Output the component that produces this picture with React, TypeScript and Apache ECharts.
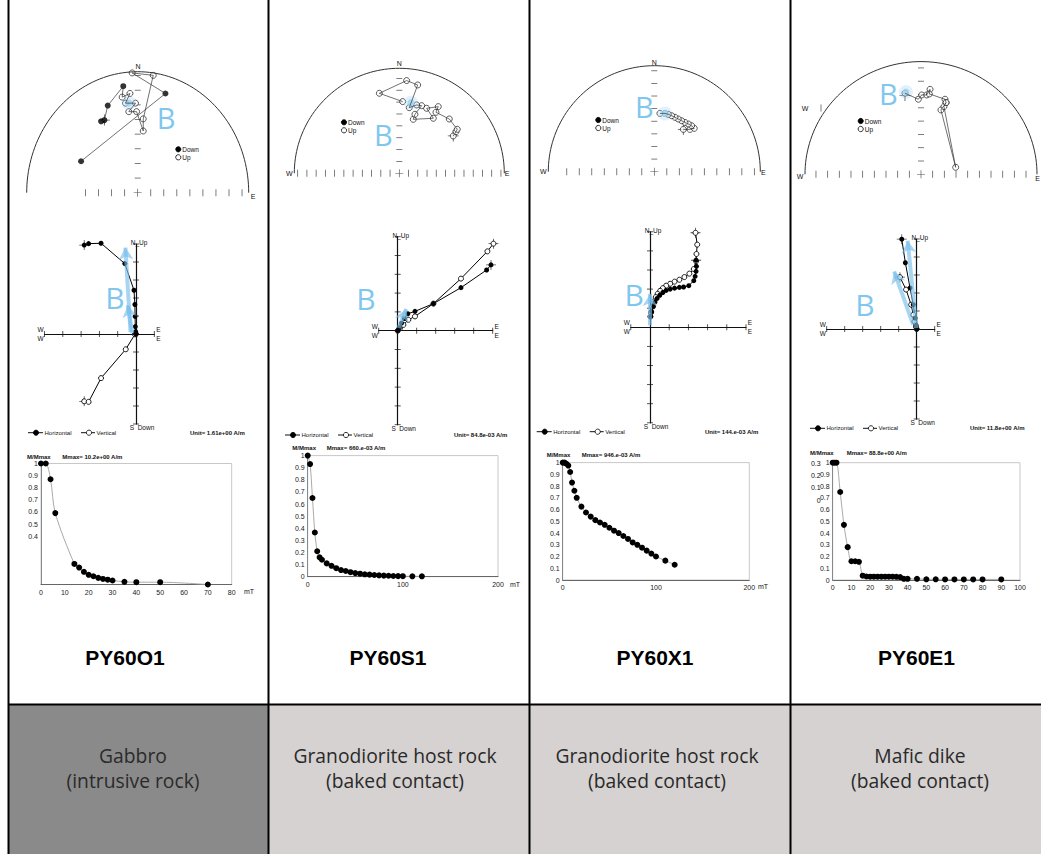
import React, { useEffect, useRef } from "react";
import * as echarts from "echarts";

const W = 1041;
const H = 854;

// ---------------- texts ----------------
const sampleIds = ["PY60O1", "PY60S1", "PY60X1", "PY60E1"];
const rockLine1 = ["Gabbro", "Granodiorite host rock", "Granodiorite host rock", "Mafic dike"];
const rockLine2 = ["(intrusive rock)", "(baked contact)", "(baked contact)", "(baked contact)"];
const unitTexts = ["Unit= 1.61e+00 A/m", "Unit= 84.8e-03 A/m", "Unit= 144.e-03 A/m", "Unit= 11.8e+00 A/m"];
const mmaxTexts = ["Mmax= 10.2e+00 A/m", "Mmax= 660.e-03 A/m", "Mmax= 946.e-03 A/m", "Mmax= 88.8e+00 A/m"];
const ghostTickLabelsE1 = ["0.3", "0.2", "0.1", "0"];

// ---------------- stereonets: [x, y, 1 = down / 0 = up], in net radii ----------------
const stereoO1 = [
  [-0.51, 0.26, 1], [0.25, 0.82, 1], [-0.05, 0.99, 0], [0.14, 0.97, 0], [0.05, 0.61, 0], [0.05, 0.51, 0],
  [-0.01, 0.67, 0], [-0.08, 0.67, 0], [-0.02, 0.74, 0], [-0.11, 0.74, 0], [-0.07, 0.82, 0], [-0.14, 0.79, 0],
  [-0.13, 0.88, 1], [-0.27, 0.72, 1], [-0.30, 0.60, 1], [-0.33, 0.59, 1],
];
const stereoS1 = [
  [0.514, 0.356, 0], [0.54, 0.397, 0], [0.552, 0.419, 0], [0.476, 0.517, 0], [0.349, 0.581, 0], [0.371, 0.635, 0],
  [0.26, 0.619, 0], [0.324, 0.524, 0], [0.133, 0.514, 0], [0.149, 0.562, 0], [0.213, 0.644, 0], [0.165, 0.651, 0],
  [0.095, 0.625, 0], [0.175, 0.841, 0], [0.07, 0.883, 0], [-0.19, 0.762, 0], [0.032, 0.683, 0],
];
const stereoX1 = [
  [0.274, 0.399, 0], [0.336, 0.399, 0], [0.377, 0.409, 0], [0.352, 0.434, 0], [0.321, 0.45, 0], [0.289, 0.465, 0],
  [0.258, 0.481, 0], [0.226, 0.497, 0], [0.195, 0.513, 0], [0.164, 0.528, 0], [0.132, 0.541, 0], [0.1, 0.55, 0],
  [0.053, 0.55, 0],
];
const stereoE1 = [
  [-0.138, 0.72, 0], [-0.023, 0.666, 0], [0.006, 0.704, 0], [0.049, 0.704, 0], [0.078, 0.754, 0], [0.072, 0.713, 0],
  [0.207, 0.666, 0], [0.216, 0.636, 0], [0.172, 0.571, 0], [0.299, 0.062, 0], [0.198, 0.601, 0], [0.216, 0.636, 0],
];
const stereoMeans = [[[-0.08, 0.74]], [[0.111, 0.673]], [[0.1, 0.55]], [[-0.13, 0.73]]];
const stereoCrosses = [[[-0.3, 0.6]], [[0.514, 0.356]], [[0.274, 0.399]], [[-0.138, 0.7]]];

// ---------------- Zijderveld (tick units) ----------------
const zijO1H = [[-2.83, 4.94], [-2.59, 5.02], [-1.91, 5.04], [-0.61, 3.91], [-0.11, 2.43], [-0.06, 1.64], [-0.05, 0.98], [-0.04, 0.41], [-0.02, 0.13], [0, 0]];
const zijO1V = [[-2.83, -3.74], [-2.59, -3.77], [-1.91, -2.45], [-0.56, -0.85], [-0.06, -0.02], [0, 0]];
const zijS1H = [[4.91, 3.5], [4.68, 3.23], [3.33, 2.29], [1.88, 1.44], [0.91, 1.03], [0.53, 0.9], [0.35, 0.65], [0.2, 0.4], [0.08, 0.15], [0, 0]];
const zijS1V = [[5.04, 4.63], [4.72, 4.22], [3.33, 2.77], [1.88, 1.44], [0.91, 0.76], [0.56, 0.58], [0.3, 0.31], [0.12, 0.13], [0, 0]];
const zijX1H = [[2.4, 3.51], [2.42, 3.19], [2.4, 2.93], [2.35, 2.67], [2.28, 2.44], [2.02, 2.18], [1.75, 2.11], [1.53, 2.09], [1.28, 2.05], [1.05, 2.0], [0.84, 1.93], [0.67, 1.82], [0.51, 1.68], [0.37, 1.51], [0.26, 1.32], [0.18, 1.09], [0.09, 0.82], [0.04, 0.56]];
const zijX1V = [[2.37, 4.95], [2.46, 4.33], [2.42, 3.84], [2.4, 3.46], [2.28, 3.05], [2.05, 2.81], [1.79, 2.63], [1.53, 2.49], [1.28, 2.39], [1.05, 2.28], [0.84, 2.18], [0.67, 2.05], [0.53, 1.91], [0.4, 1.75], [0.3, 1.58], [0.21, 1.35], [0.12, 1.09], [0.05, 0.77], [0.02, 0.56]];
const zijE1H = [[-0.83, 4.99], [-0.63, 3.68], [-0.37, 2.28], [-0.19, 1.35], [-0.09, 0.6], [-0.04, 0.22], [0, 0]];
const zijE1V = [[-0.93, 2.88], [-0.59, 2.19], [-0.31, 1.35], [-0.19, 0.79], [-0.13, 0.41], [-0.04, 0.13], [0, 0]];
const zijArrows = [
  [[[-0.3, 0.1], [-0.58, 4.8]], [[-0.2, 0.05], [-0.45, 1.6]]],
  [[[0.05, 0.15], [0.45, 1.15]]],
  [[[0, 0.1], [0, 1.75]]],
  [[[-0.02, 0.05], [-0.5, 4.9]], [[-0.2, 0.25], [-1.25, 3.2]]],
];

// ---------------- AF demagnetisation (mT, M/Mmax) ----------------
const demagO1Field = [0, 2, 4, 6, 14, 16, 18, 20, 22, 24, 26, 28, 30, 35, 40, 50, 70];
const demagO1M = [1, 1, 0.87, 0.59, 0.17, 0.14, 0.105, 0.08, 0.068, 0.055, 0.046, 0.04, 0.033, 0.022, 0.019, 0.019, 0.0];
const demagS1Field = [0, 2.5, 5, 7.5, 10, 12.5, 15, 20, 25, 30, 35, 40, 45, 50, 55, 60, 65, 70, 75, 80, 85, 90, 95, 100, 110, 120];
const demagS1M = [1, 0.93, 0.65, 0.365, 0.21, 0.16, 0.14, 0.11, 0.09, 0.07, 0.055, 0.047, 0.037, 0.03, 0.025, 0.02, 0.017, 0.014, 0.011, 0.009, 0.008, 0.006, 0.005, 0.004, 0.003, 0.003];
const demagX1Field = [0, 2, 4, 6, 8, 10, 12.5, 15, 20, 25, 30, 35, 40, 45, 50, 55, 60, 65, 70, 75, 80, 85, 90, 95, 100, 110, 120];
const demagX1M = [1, 1, 0.99, 0.975, 0.92, 0.83, 0.76, 0.7, 0.625, 0.575, 0.54, 0.51, 0.49, 0.47, 0.445, 0.42, 0.4, 0.375, 0.35, 0.32, 0.3, 0.275, 0.25, 0.225, 0.2, 0.165, 0.13];
const demagE1Field = [0, 1, 2, 4, 6, 8, 10, 12, 14, 16, 18, 20, 22, 24, 26, 28, 30, 32, 34, 36, 38, 40, 45, 50, 55, 60, 65, 70, 75, 80, 90];
const demagE1M = [1, 1, 1, 0.75, 0.47, 0.28, 0.16, 0.16, 0.155, 0.037, 0.03, 0.028, 0.028, 0.028, 0.028, 0.028, 0.028, 0.028, 0.027, 0.025, 0.01, 0.01, 0.01, 0.006, 0.006, 0.005, 0.005, 0.005, 0.005, 0.005, 0.005];

const stereoData = [stereoO1, stereoS1, stereoX1, stereoE1];
const zijH = [zijO1H, zijS1H, zijX1H, zijE1H];
const zijV = [zijO1V, zijS1V, zijX1V, zijE1V];
const demagField = [demagO1Field, demagS1Field, demagX1Field, demagE1Field];
const demagM = [demagO1M, demagS1M, demagX1M, demagE1M];

// ---------------- layout (pixels) ----------------
const panels = [
  {
    stereo: { cx: 137.7, cy: 192.7, rx: 111, ry: 121, hStep: 0.1175, hFrom: -4, hTo: 8, vStep: 0.121, vN: 8 },
    sN: [138, 66], sE: [253, 196], sW: null as any, legS: [178.3, 149.3], bS: [166, 117],
    zij: { ox: 136, oy: 334, ux: 18.3, uy: 18, xmin: -5, xmax: 1 }, bZ: [115, 297], legZ: [28, 432.7], unitX: 190,
    demag: { l: 41, t: 463.5, r: 231.7, b: 584.5, xmax: 80, step: 10, minLabel: 0.35 }, mT: [244, 591.5] as any,
    title: [27, 62.3, 456.7], idX: 125, rockX: 133,
  },
  {
    stereo: { cx: 399.3, cy: 173.3, rx: 105, ry: 105, hStep: 0.088, hFrom: -11, hTo: 11, vStep: 0.113, vN: 8 },
    sN: [399.3, 63.5], sE: [507, 173.3], sW: [289.3, 173.3], legS: [344, 122.3], bS: [383.3, 134],
    zij: { ox: 397.7, oy: 330.7, ux: 19, uy: 18.8, xmin: -1, xmax: 5 }, bZ: [366, 298.3], legZ: [285, 435], unitX: 454,
    demag: { l: 307.7, t: 455.6, r: 498, b: 576.7, xmax: 200, step: 100, minLabel: 0 }, mT: [510, 584.3] as any,
    title: [292.3, 326.7, 448.3], idX: 388, rockX: 395,
  },
  {
    stereo: { cx: 654.3, cy: 171.7, rx: 106, ry: 106, hStep: 0.118, hFrom: -7, hTo: 8, vStep: 0.119, vN: 8 },
    sN: [654.3, 62.5], sE: [763.3, 172.7], sW: [543.3, 171.7], legS: [598.3, 120], bS: [644.3, 106.7],
    zij: { ox: 650, oy: 327.3, ux: 19.2, uy: 19.1, xmin: -1, xmax: 5 }, bZ: [634.3, 294], legZ: [536.7, 431.7], unitX: 705,
    demag: { l: 562.7, t: 462.6, r: 749.3, b: 580, xmax: 200, step: 100, minLabel: 0 }, mT: [758, 586] as any,
    title: [546.7, 581.7, 455], idX: 655, rockX: 657,
  },
  {
    stereo: { cx: 921, cy: 174.3, rx: 116, ry: 112.7, hStep: 0.1006, hFrom: -9, hTo: 9, vStep: 0.118, vN: 8 },
    sN: null as any, sE: [1040, 178], sW: [800, 176], legS: [860.7, 121], bS: [888.3, 93.3],
    zij: { ox: 916.7, oy: 329, ux: 18, uy: 18, xmin: -5, xmax: 1 }, bZ: [865, 304.3], legZ: [810, 428.3], unitX: 970,
    demag: { l: 832.7, t: 462.7, r: 1020, b: 580, xmax: 100, step: 10, minLabel: 0 }, mT: null as any,
    title: [810, 846.7, 453.3], idX: 916.5, rockX: 920,
  },
];

const FONT = "Liberation Sans";
const BLUE = "#7fc7ee";
const PLUS = "path://M4.6,0h0.8v10h-0.8zM0,4.6h10v0.8h-10z";

function txt(x: number, y: number, text: string, o: any = {}) {
  const align = o.align ?? "center";
  const valign = o.valign ?? "middle";
  return {
    type: "text", x, y, z: 50, silent: true,
    style: {
      text, fontSize: o.size ?? 7, fontFamily: o.family ?? FONT, fontWeight: o.weight ?? "normal",
      fill: o.color ?? "#111", textAlign: align, textVerticalAlign: valign, align, verticalAlign: valign,
    },
  };
}
function ln(x1: number, y1: number, x2: number, y2: number, w = 1, c = "#111") {
  return { type: "line", z: 40, silent: true, shape: { x1, y1, x2, y2 }, style: { stroke: c, lineWidth: w } };
}
function circ(cx: number, cy: number, r: number, fill: string) {
  return { type: "circle", z: 45, silent: true, shape: { cx, cy, r }, style: { fill, stroke: "#000", lineWidth: 0.8 } };
}

function buildOption() {
  const grid: any[] = [];
  const xAxis: any[] = [];
  const yAxis: any[] = [];
  const series: any[] = [];
  const els: any[] = [];
  const add = (g: any, xa: any, ya: any) => {
    const i = grid.length;
    grid.push(g);
    xAxis.push({ ...xa, gridIndex: i });
    yAxis.push({ ...ya, gridIndex: i });
    return i;
  };

  // background panels and frame
  const bottomFill = ["#8a8a8a", "#d6d2d1", "#d6d2d1", "#d6d2d1"];
  const colX = [8.5, 268.5, 529.5, 790.5, 1041];
  for (let i = 0; i < 4; i++) {
    els.push({ type: "rect", z: 1, silent: true, shape: { x: colX[i], y: 705, width: colX[i + 1] - colX[i], height: 149 }, style: { fill: bottomFill[i] } });
  }
  colX.slice(0, 4).forEach((x) => els.push(ln(x, 0, x, H, 2, "#000")));
  els.push(ln(8, 704.5, W, 704.5, 2, "#000"));

  const arc: number[][] = [];
  for (let a = 0; a <= 180; a += 2) arc.push([Math.cos((a * Math.PI) / 180), Math.sin((a * Math.PI) / 180)]);

  panels.forEach((p, i) => {
    // ----- stereonet -----
    const s = p.stereo;
    const sg = add(
      { left: s.cx - s.rx, top: s.cy - s.ry, width: 2 * s.rx, height: s.ry },
      { type: "value", min: -1, max: 1, show: false },
      { type: "value", min: 0, max: 1, show: false }
    );
    const sa = { xAxisIndex: sg, yAxisIndex: sg };
    const hT: number[][] = [];
    for (let k = s.hFrom; k <= s.hTo; k++) if (k !== 0) hT.push([k * s.hStep, 0]);
    if (i === 3) hT.push([-0.862, 0.588]);
    const vT: number[][] = [];
    for (let k = 1; k <= s.vN; k++) vT.push([0, k * s.vStep]);
    const sd = stereoData[i];
    series.push(
      { type: "line", ...sa, data: arc, showSymbol: false, silent: true, clip: false, lineStyle: { color: "#333", width: 1 } },
      { type: "scatter", ...sa, data: hT, symbol: "rect", symbolSize: [0.8, 7], silent: true, clip: false, itemStyle: { color: "#333" } },
      { type: "scatter", ...sa, data: vT, symbol: "rect", symbolSize: [6, 0.8], silent: true, clip: false, itemStyle: { color: "#333" } },
      { type: "scatter", ...sa, data: [[0, 0]], symbol: PLUS, symbolSize: 8, silent: true, clip: false, itemStyle: { color: "#222" } },
      { type: "line", ...sa, data: sd.map((d) => [d[0], d[1]]), showSymbol: false, silent: true, clip: false, lineStyle: { color: "#333", width: 0.7 } },
      { type: "scatter", ...sa, data: stereoCrosses[i], symbol: PLUS, symbolSize: 11, silent: true, clip: false, itemStyle: { color: "#333" } },
      { type: "scatter", ...sa, data: sd.filter((d) => d[2] === 1).map((d) => [d[0], d[1]]), symbol: "circle", symbolSize: 6, silent: true, clip: false, itemStyle: { color: "#000" } },
      { type: "scatter", ...sa, data: sd.filter((d) => d[2] === 0).map((d) => [d[0], d[1]]), symbol: "circle", symbolSize: 6, silent: true, clip: false, itemStyle: { color: "#fff", borderColor: "#000", borderWidth: 0.8 } },
      { type: "scatter", ...sa, data: stereoMeans[i], symbol: "circle", symbolSize: 14, silent: true, clip: false, itemStyle: { color: "rgba(150,205,240,0.35)" } },
      { type: "scatter", ...sa, data: stereoMeans[i], symbol: "circle", symbolSize: 7, silent: true, clip: false, itemStyle: { color: "#9ed3f2" } }
    );
    if (p.sN) els.push(txt(p.sN[0], p.sN[1], "N"));
    if (p.sE) els.push(txt(p.sE[0], p.sE[1], "E", { align: i === 3 ? "right" : "center" }));
    if (p.sW) els.push(txt(p.sW[0], p.sW[1], "W"));
    if (i === 3) els.push(txt(805, 108, "W"));
    els.push(circ(p.legS[0], p.legS[1], 2.6, "#000"), txt(p.legS[0] + 4, p.legS[1], "Down", { align: "left", size: 6.5 }));
    els.push(circ(p.legS[0], p.legS[1] + 8, 2.6, "#fff"), txt(p.legS[0] + 4, p.legS[1] + 8, "Up", { align: "left", size: 6.5 }));
    els.push(txt(p.bS[0], p.bS[1], "B", { size: 29, family: "Open Sans", color: BLUE }));

    // ----- Zijderveld -----
    const z = p.zij;
    const zAxis = (min: number, max: number) => ({
      type: "value", min, max,
      axisLine: { show: true, onZero: true, lineStyle: { color: "#111", width: 1.2 } },
      axisTick: { show: false }, axisLabel: { show: false }, splitLine: { show: false },
    });
    const zg = add(
      { left: z.ox + z.xmin * z.ux, top: z.oy - 5 * z.uy, width: (z.xmax - z.xmin) * z.ux, height: 10 * z.uy },
      zAxis(z.xmin, z.xmax),
      zAxis(-5, 5)
    );
    const za = { xAxisIndex: zg, yAxisIndex: zg };
    const zx: number[][] = [];
    for (let k = z.xmin; k <= z.xmax; k++) if (k !== 0) zx.push([k, 0]);
    const zy: number[][] = [];
    for (let k = -5; k <= 5; k++) if (k !== 0) zy.push([0, k]);
    series.push(
      { type: "scatter", ...za, data: zx, symbol: "rect", symbolSize: [0.9, 6], silent: true, clip: false, itemStyle: { color: "#111" } },
      { type: "scatter", ...za, data: zy, symbol: "rect", symbolSize: [6, 0.9], silent: true, clip: false, itemStyle: { color: "#111" } },
      { type: "scatter", ...za, data: [zijH[i][0], zijV[i][0]], symbol: PLUS, symbolSize: 10, silent: true, clip: false, itemStyle: { color: "#222" } },
      {
        type: "line", ...za, data: zijV[i], symbol: "circle", symbolSize: 5, showSymbol: true, silent: true, clip: false,
        itemStyle: { color: "#fff", borderColor: "#000", borderWidth: 0.9 }, lineStyle: { color: "#000", width: 1 },
      },
      {
        type: "line", ...za, data: zijH[i], symbol: "circle", symbolSize: 5, showSymbol: true, silent: true, clip: false,
        itemStyle: { color: "#000" }, lineStyle: { color: "#000", width: 1 },
        markLine: {
          silent: true, symbol: ["none", "arrow"], symbolSize: [11, 12], label: { show: false },
          lineStyle: { color: "rgba(120,190,235,0.65)", width: 4, type: "solid" },
          data: zijArrows[i].map((a) => [{ coord: a[0] }, { coord: a[1] }]),
        },
      }
    );
    const top = z.oy - 5 * z.uy;
    const bot = z.oy + 5 * z.uy;
    const lft = z.ox + z.xmin * z.ux;
    const rgt = z.ox + z.xmax * z.ux;
    els.push(txt(z.ox + 3, top - 1.5, "N_Up", { size: 6.5 }));
    els.push(txt(z.ox + 6, bot + 3.5, "S  Down", { size: 6.5 }));
    els.push(txt(lft - 4, z.oy - 4.5, "W", { size: 6.5 }), txt(lft - 4, z.oy + 4.5, "W", { size: 6.5 }));
    els.push(txt(rgt + 4, z.oy - 4.5, "E", { size: 6.5 }), txt(rgt + 4, z.oy + 4.5, "E", { size: 6.5 }));
    els.push(txt(p.bZ[0], p.bZ[1], "B", { size: 30, family: "Open Sans", color: BLUE }));
    const [lx, ly] = p.legZ;
    els.push(ln(lx, ly, lx + 15, ly, 1), circ(lx + 8, ly, 2.6, "#000"), txt(lx + 16.5, ly, "Horizontal", { align: "left", size: 6 }));
    els.push(ln(lx + 53, ly, lx + 67, ly, 1), circ(lx + 61, ly, 2.6, "#fff"), txt(lx + 68.5, ly, "Vertical", { align: "left", size: 6 }));
    els.push(txt(p.unitX, ly, unitTexts[i], { align: "left", size: 6, weight: "bold" }));

    // ----- demagnetisation curve -----
    const d = p.demag;
    const dg = add(
      { left: d.l, top: d.t, width: d.r - d.l, height: d.b - d.t, show: true, borderColor: "#c8c8c8", borderWidth: 1 },
      {
        type: "value", min: 0, max: d.xmax, interval: d.step,
        axisLine: { show: true, lineStyle: { color: "#666", width: 1 } }, axisTick: { show: false }, splitLine: { show: false },
        axisLabel: { fontSize: 7, color: "#222", fontFamily: FONT, margin: 4 },
      },
      {
        type: "value", min: 0, max: 1, interval: 0.1,
        axisLine: { show: true, lineStyle: { color: "#888", width: 1 } }, axisTick: { show: false }, splitLine: { show: false },
        axisLabel: {
          fontSize: 7, color: "#222", fontFamily: FONT, margin: 3,
          formatter: (v: number) => (v < d.minLabel - 1e-9 ? "" : String(+v.toFixed(1))),
        },
      }
    );
    series.push({
      type: "line", xAxisIndex: dg, yAxisIndex: dg, data: demagField[i].map((f, k) => [f, demagM[i][k]]),
      smooth: 0.3, symbol: "circle", symbolSize: 6, showSymbol: true, silent: true, clip: false,
      itemStyle: { color: "#000" }, lineStyle: { color: "#aaa", width: 1 },
    });
    els.push(txt(p.title[0], p.title[2], "M/Mmax", { align: "left", size: 6, weight: "bold" }));
    els.push(txt(p.title[1], p.title[2], mmaxTexts[i], { align: "left", size: 6, weight: "bold" }));
    if (p.mT) els.push(txt(p.mT[0], p.mT[1], "mT", { align: "left", size: 7 }));
    if (i === 3) {
      ghostTickLabelsE1.forEach((t, k) => els.push(txt(820.7, 463.3 + k * 12.3, t, { align: "right", size: 7 })));
    }

    // ----- sample id and rock type -----
    els.push(txt(p.idX, 657, sampleIds[i], { size: 21, weight: "bold", family: FONT, color: "#000" }));
    els.push(txt(p.rockX, 755, rockLine1[i], { size: 19.3, family: "Open Sans", color: "#2a2a2a" }));
    els.push(txt(p.rockX, 780.5, rockLine2[i], { size: 19.3, family: "Open Sans", color: "#2a2a2a" }));
  });

  return {
    animation: false,
    backgroundColor: "#fff",
    grid, xAxis, yAxis, series,
    graphic: { elements: els },
  };
}

export default function App() {
  const ref = useRef<HTMLDivElement>(null);
  useEffect(() => {
    const chart = echarts.init(ref.current!, null, { renderer: "svg" });
    chart.setOption(buildOption() as any);
    return () => chart.dispose();
  }, []);
  return <div ref={ref} style={{ position: "absolute", left: 0, top: 0, width: W, height: H }} />;
}
